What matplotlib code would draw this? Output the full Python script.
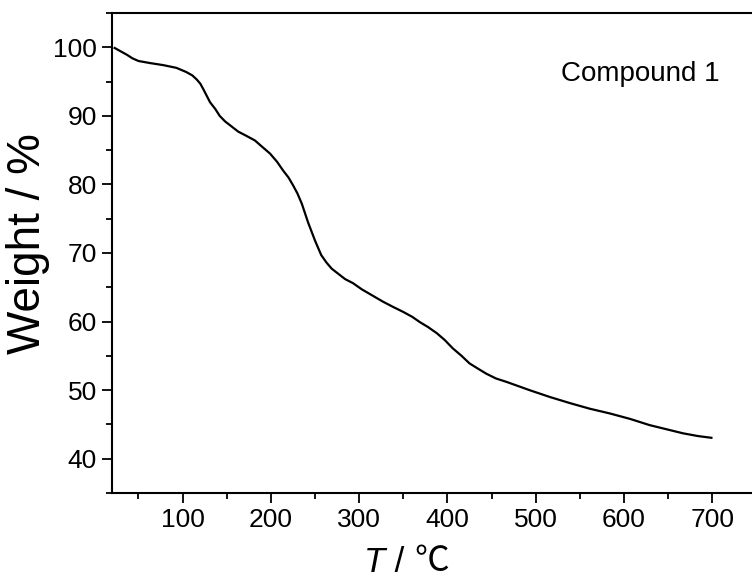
import matplotlib
matplotlib.use("Agg")
import matplotlib.pyplot as plt
from matplotlib.ticker import MultipleLocator
from matplotlib.transforms import IdentityTransform

temperature = [23, 30, 37, 43, 50, 63, 78, 93, 104, 111, 116, 120, 123, 127, 131, 137, 142,
               148, 154, 163, 172, 182, 190, 199, 207, 214, 220, 225, 230, 235, 242, 250,
               257, 263, 269, 276, 284, 293, 303, 315, 327, 339, 350, 360, 369, 378, 388,
               397, 406, 416, 425, 435, 444, 455, 467, 480, 493, 516, 539, 561, 584, 607,
               629, 648, 667, 684, 699]
weight = [99.9, 99.4, 98.9, 98.4, 98.0, 97.7, 97.4, 97.0, 96.4, 95.9, 95.3, 94.7, 94.0,
          93.0, 92.0, 91.0, 90.0, 89.2, 88.6, 87.7, 87.1, 86.4, 85.5, 84.5, 83.3, 82.0,
          81.0, 79.9, 78.7, 77.2, 74.5, 71.8, 69.7, 68.6, 67.7, 67.0, 66.2, 65.6, 64.7,
          63.8, 62.9, 62.1, 61.4, 60.7, 59.9, 59.2, 58.3, 57.3, 56.1, 55.0, 53.9, 53.1,
          52.4, 51.7, 51.2, 50.6, 50.0, 49.0, 48.1, 47.3, 46.6, 45.8, 44.9, 44.3, 43.7,
          43.3, 43.05]

x_ticks = [100, 200, 300, 400, 500, 600, 700]
y_ticks = [40, 50, 60, 70, 80, 90, 100]

plt.rcParams['font.family'] = ['Liberation Sans', 'DejaVu Sans']

fig = plt.figure(figsize=(7.52, 5.81), dpi=100)
ax = fig.add_axes([112/752, 1-493/581, 1-112/752, (493-13)/581])

ax.plot(temperature, weight, color='black', lw=1.6, solid_joinstyle='round')

ax.set_xlim(20, 745)
ax.set_ylim(35, 105)
ax.set_xticks(x_ticks)
ax.set_yticks(y_ticks)
ax.xaxis.set_minor_locator(MultipleLocator(50))
ax.yaxis.set_minor_locator(MultipleLocator(5))
ax.tick_params(which='major', direction='out', length=7, width=1.3, labelsize=19, pad=4)
ax.tick_params(which='minor', direction='out', length=4, width=1.3)
ax.spines['right'].set_visible(False)
for s in ['left', 'bottom', 'top']:
    ax.spines[s].set_linewidth(1.5)

ax.set_ylabel('Weight / %', fontsize=33)
ax.yaxis.set_label_coords((50 - 112) / 640, (493 - 244) / 480)

t1 = fig.text(364/752, 1-572/581, 'T', fontsize=25, style='italic',
              family=['Liberation Sans'], va='baseline', ha='left')
t2 = ax.annotate(' / ', xy=(1, 0), xycoords=t1, va='bottom', ha='left',
                 fontsize=25, family=['Liberation Sans'])
ax.annotate('℃', xy=(1, 0), xycoords=t2, va='bottom', ha='left',
            fontsize=25, family=['Noto Sans CJK SC', 'DejaVu Sans'])

ax.text(561, 581 - 81, 'Compound 1', transform=IdentityTransform(), fontsize=20,
        va='baseline', ha='left')

fig.savefig('out.png', dpi=100)
